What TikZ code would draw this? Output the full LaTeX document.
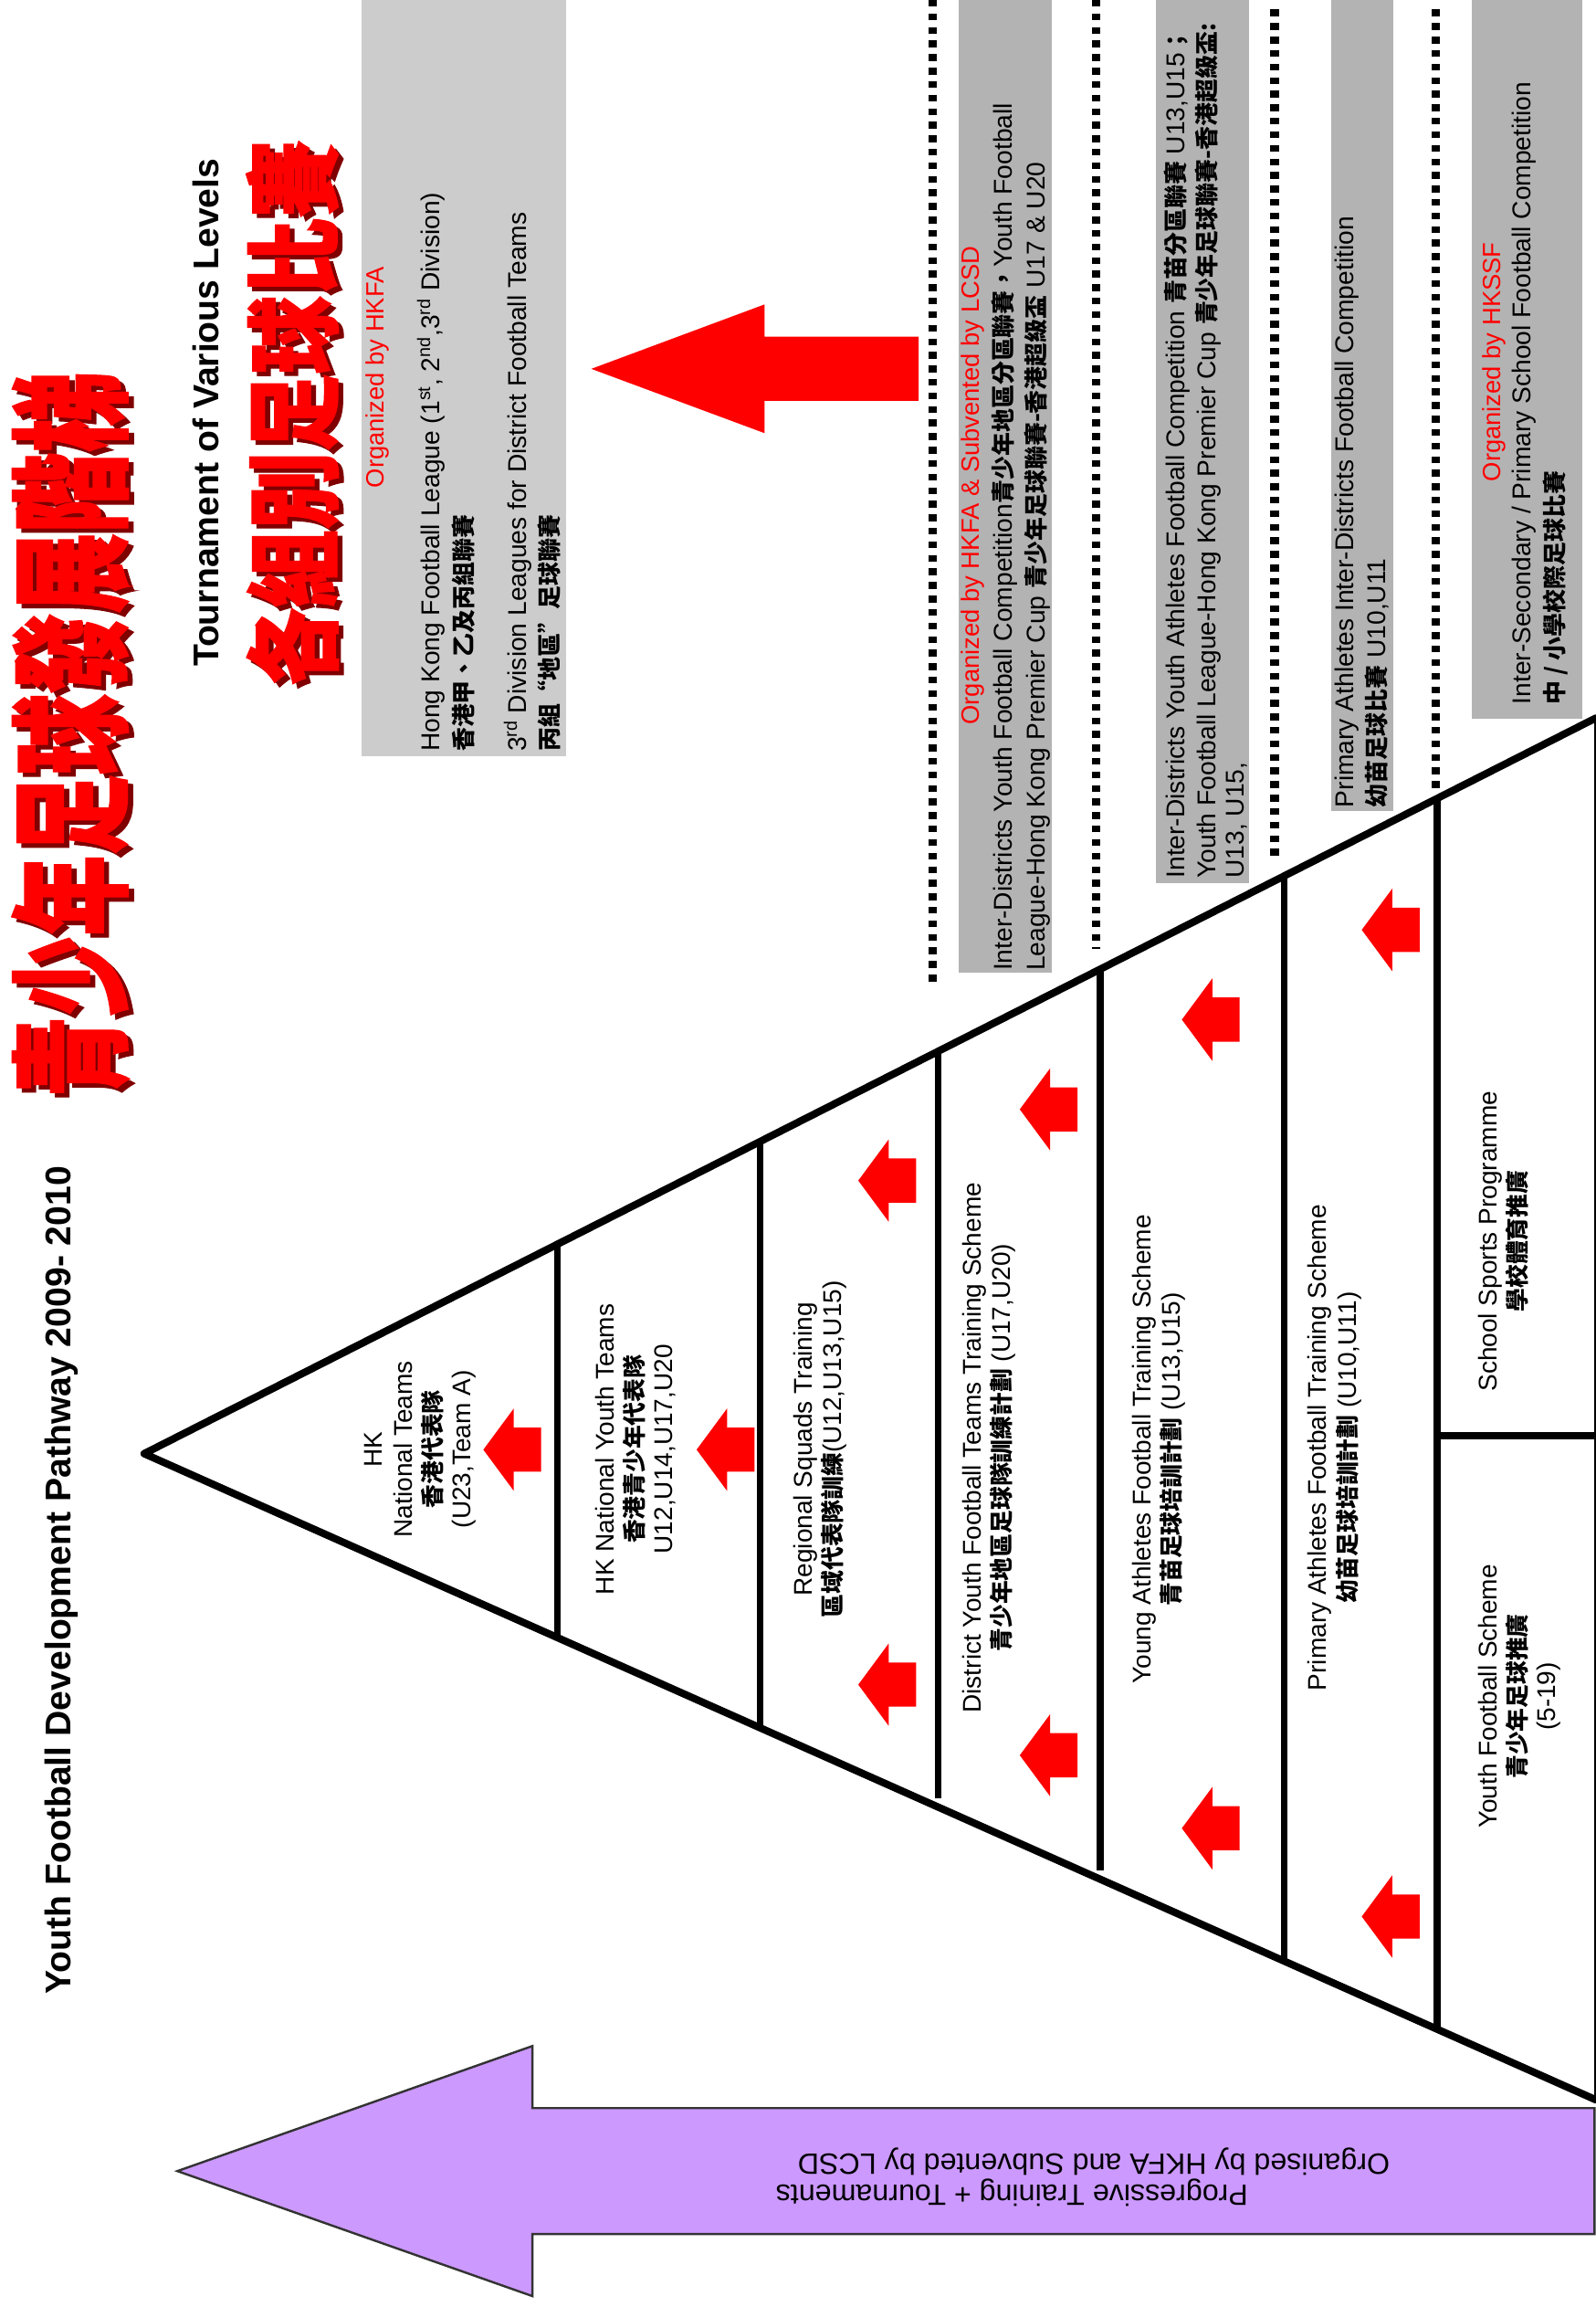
\documentclass[tikz,border=0pt]{standalone}
\usepackage{fontspec}
\setmainfont{Liberation Sans}
\newfontfamily\cjk{Noto Sans CJK TC}[Scale=0.92]
\newfontfamily\cjkbig{Noto Sans CJK TC}[BoldFeatures={FakeBold=1.2}]
\usetikzlibrary{calc}
\definecolor{boxgrayA}{HTML}{CCCCCC}
\definecolor{boxgrayB}{HTML}{B3B3B3}
\definecolor{purp}{HTML}{CC99FF}
\definecolor{shadowred}{HTML}{800000}
\newcommand\zh[1]{{\cjk\bfseries #1}}
\begin{document}
\begin{tikzpicture}[x=1pt,y=-1pt,
  lab/.style={rotate=90,align=center,inner sep=0pt,font=\fontsize{17.4}{20}\selectfont},
  boxline/.style={rotate=90,anchor=west,inner sep=0pt,font=\fontsize{17.5}{20}\selectfont},
  orgred/.style={rotate=90,inner sep=0pt,text=red,font=\fontsize{17}{20}\selectfont},
  titletext/.style={rotate=90,inner sep=0pt,font=\bfseries\fontsize{24.3}{28}\selectfont},
  bigzh/.style={rotate=90,inner sep=0pt,font=\cjkbig\bfseries\fontsize{#1}{#1}\selectfont},
  purptext/.style={rotate=180,inner sep=0pt,font=\fontsize{20}{22}\selectfont},
  edgeline/.style={line width=5pt,line join=round,line cap=round},
  divider/.style={line width=4.5pt},
  dotline/.style={line width=5.8pt,dash pattern=on 4.6pt off 4.6pt},
  redarr/.pic={\fill[red] (0,0) -- (20.7,-28) -- (20.7,-15) -- (39.3,-15) -- (39.3,15) -- (20.7,15) -- (20.7,28) -- cycle;}]
\useasboundingbox (0,0) rectangle (1085,1568);

% grey boxes
\fill[boxgrayA] (245.8,0) rectangle (384.6,513.7);
\fill[boxgrayB] (651.8,0) rectangle (714.9,661.2);
\fill[boxgrayB] (786,0) rectangle (849.3,600.3);
\fill[boxgrayB] (905,0) rectangle (947.1,551);
\fill[boxgrayB] (1000.4,0) rectangle (1075.9,488.8);

% dotted separators
\draw[dotline] (634,0) -- (634,671);
\draw[dotline] (745.2,0) -- (745.2,644.7);
\draw[dotline] (866.6,6.5) -- (866.6,586);
\draw[dotline] (976.1,6.5) -- (976.1,540);

% titles
\node[bigzh=83,text=shadowred] (t1s) at (51.5,502) {\scalebox{0.66}[1]{青少年足球發展階梯}};
\node[bigzh=83,text=red] (t1) at (48,499) {\scalebox{0.66}[1]{青少年足球發展階梯}};
\node[bigzh=65,text=shadowred] (t2s) at (202,283.5) {\scalebox{0.815}[1]{各組別足球比賽}};
\node[bigzh=65,text=red] (t2) at (198.7,280.5) {\scalebox{0.815}[1]{各組別足球比賽}};
\node[titletext] (ttl) at (42.1,1074) {Youth Football Development Pathway 2009- 2010};
\node[titletext] (tov) at (140,280.5) {Tournament of Various Levels};

% big red arrow
\fill[red] (402,250.7) -- (519.8,206.9) -- (519.8,228.8) -- (624.5,228.8) -- (624.5,272.5) -- (519.8,272.5) -- (519.8,294.4) -- cycle;

% box 1 text
\node[orgred] (org1) at (256.5,256.5) {Organized by HKFA};
\node[boxline] (hkfl) at (293,511) {Hong Kong Football League (1\textsuperscript{st}, 2\textsuperscript{nd},3\textsuperscript{rd} Division)};
\node[boxline] (hkflc) at (315,511) {\zh{香港甲、乙及丙組聯賽}};
\node[boxline] (div3) at (352,511) {3\textsuperscript{rd} Division Leagues for District Football Teams};
\node[boxline] (div3c) at (373.5,511) {\zh{丙組“地區”足球聯賽}};

% box 2 text
\node[orgred] (org2) at (661.5,330) {Organized by HKFA \& Subvented by LCSD};
\node[boxline] (idy1) at (683,660) {Inter-Districts Youth Football Competition\zh{青少年地區分區聯賽，}Youth Football};
\node[boxline] (idy2) at (705,660) {League-Hong Kong Premier Cup \zh{青少年足球聯賽-香港超級盃} U17 \& U20};

% box 3 text
\node[boxline] (iya1) at (800,597) {Inter-Districts Youth Athletes Football Competition \zh{青苗分區聯賽} U13,U15\zh{；}};
\node[boxline] (iya2) at (821,597) {Youth Football League-Hong Kong Premier Cup \zh{青少年足球聯賽-香港超級盃:}};
\node[boxline] (iya3) at (840.5,597) {U13, U15,};

% box 4 text
\node[boxline] (pa1) at (916,549) {Primary Athletes Inter-Districts Football Competition};
\node[boxline] (pa2) at (936,549) {\zh{幼苗足球比賽} U10,U11};

% box 5 text
\node[orgred] (org3) at (1016,246) {Organized by HKSSF};
\node[boxline] (isp1) at (1036,479) {Inter-Secondary / Primary School Football Competition};
\node[boxline] (isp2) at (1057.6,479) {\zh{中 / 小學校際足球比賽}};

% triangle
\coordinate (apex) at (98,988);
\coordinate (tr) at (1085,488);
\coordinate (br) at (1085,1427.2);
\draw[edgeline] (tr) -- (apex) -- (br);
\draw[line width=1.2pt] (1084.4,488) -- (1084.4,1427.2);
\draw[divider] ($(apex)!0.2847!(tr)$) -- ($(apex)!0.2847!(br)$);
\draw[divider] ($(apex)!0.4245!(tr)$) -- ($(apex)!0.4245!(br)$);
\draw[divider,shorten >=6pt] ($(apex)!0.5471!(tr)$) -- ($(apex)!0.5471!(br)$);
\draw[divider,shorten >=6pt] ($(apex)!0.6586!(tr)$) -- ($(apex)!0.6586!(br)$);
\draw[divider] ($(apex)!0.7852!(tr)$) -- ($(apex)!0.7852!(br)$);
\draw[divider] ($(apex)!0.8906!(tr)$) -- ($(apex)!0.8906!(br)$);
\draw[divider] (977,975.8) -- (1085,975.8);

% small red arrows
\pic at (328.6,985.3) {redarr};
\pic at (473.6,985.3) {redarr};
\pic at (583.5,802.4) {redarr};
\pic at (583.5,1145) {redarr};
\pic at (693.3,754) {redarr};
\pic at (693.3,1193) {redarr};
\pic at (803.5,693) {redarr};
\pic at (803.5,1242.6) {redarr};
\pic at (925.8,632) {redarr};
\pic at (925.8,1302.6) {redarr};

% section labels
\node[lab] (s1) at (285.8,985) {HK\\National Teams\\\zh{香港代表隊}\\(U23,Team A)};
\node[lab] (s2) at (432,985) {HK National Youth Teams\\\zh{香港青少年代表隊}\\U12,U14,U17,U20};
\node[lab] (s3) at (557.6,985) {Regional Squads Training\\\zh{區域代表隊訓練}(U12,U13,U15)};
\node[lab] (s4) at (672.2,984) {District Youth Football Teams Training Scheme\\\zh{青少年地區足球隊訓練計劃} (U17,U20)};
\node[lab] (s5) at (787.7,985) {Young Athletes Football Training Scheme\\\zh{青苗足球培訓計劃} (U13,U15)};
\node[lab] (s6) at (907.3,984) {Primary Athletes Football Training Scheme\\\zh{幼苗足球培訓計劃} (U10,U11)};
\node[lab] (s7a) at (1022.3,843.7) {School Sports Programme\\\zh{學校體育推廣}};
\node[lab] (s7b) at (1033.1,1153) {Youth Football Scheme\\\zh{青少年足球推廣}\\(5-19)};

% purple arrow
\draw[fill=purp,draw=black!80,line width=1.5pt,line join=miter] (120.6,1475.6) -- (362,1390.6) -- (362,1432.8) -- (1084,1432.8) -- (1084,1518.4) -- (362,1518.4) -- (362,1560.6) -- cycle;
\node[purptext] (pt1) at (688,1490) {Progressive Training + Tournaments};
\node[purptext] (pt2) at (743.6,1469) {Organised by HKFA and Subvented by LCSD};
\end{tikzpicture}
\end{document}
